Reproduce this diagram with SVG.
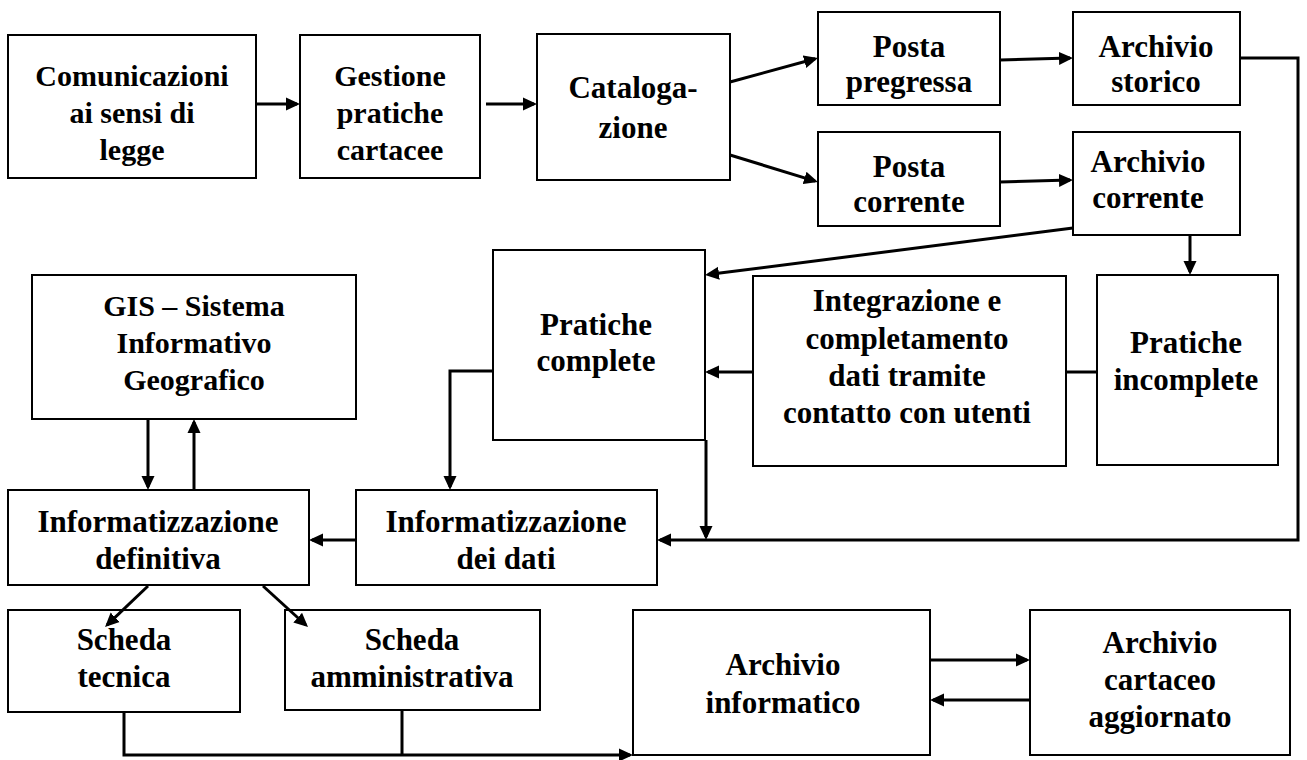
<svg xmlns="http://www.w3.org/2000/svg" width="1307" height="760" viewBox="0 0 1307 760">
<style>
.box{fill:#fff;stroke:#000;stroke-width:2}
.ta{font-family:"Liberation Serif","Times New Roman",serif;font-weight:bold;font-size:30px;text-anchor:middle;fill:#000}
.tb{font-family:"Liberation Serif","Times New Roman",serif;font-weight:bold;font-size:31px;text-anchor:middle;fill:#000}
.c{fill:none;stroke:#000;stroke-width:3}
.ca{fill:none;stroke:#000;stroke-width:3;marker-end:url(#ah)}
</style>
<defs>
<marker id="ah" viewBox="0 0 14 14" refX="11" refY="7" markerWidth="14" markerHeight="14" markerUnits="userSpaceOnUse" orient="auto"><path d="M0,0.5 L14,7 L0,13.5 z" fill="#000"/></marker>
</defs>
<rect width="1307" height="760" fill="#fff"/>
<g id="n1"><rect class="box" x="8" y="35" width="248" height="143"/><text class="ta" x="132" y="86">Comunicazioni</text><text class="ta" x="132" y="123">ai sensi di</text><text class="ta" x="132" y="160">legge</text></g>
<g id="n2"><rect class="box" x="300" y="35" width="180" height="143"/><text class="ta" x="390" y="86">Gestione</text><text class="ta" x="390" y="123">pratiche</text><text class="ta" x="390" y="160">cartacee</text></g>
<g id="n3"><rect class="box" x="537" y="34" width="193" height="146"/><text class="tb" x="633" y="98">Cataloga-</text><text class="tb" x="633" y="138">zione</text></g>
<g id="n4"><rect class="box" x="818" y="12" width="182" height="93"/><text class="tb" x="909" y="57">Posta</text><text class="tb" x="909" y="92">pregressa</text></g>
<g id="n5"><rect class="box" x="1073" y="12" width="167" height="93"/><text class="tb" x="1156" y="57">Archivio</text><text class="tb" x="1156" y="92">storico</text></g>
<g id="n6"><rect class="box" x="818" y="132" width="182" height="94"/><text class="tb" x="909" y="177">Posta</text><text class="tb" x="909" y="212">corrente</text></g>
<g id="n7"><rect class="box" x="1073" y="132" width="167" height="103"/><text class="tb" x="1148" y="172">Archivio</text><text class="tb" x="1148" y="208">corrente</text></g>
<g id="n8"><rect class="box" x="493" y="250" width="212" height="190"/><text class="tb" x="596" y="335">Pratiche</text><text class="tb" x="596" y="371">complete</text></g>
<g id="n9"><rect class="box" x="753" y="276" width="313" height="190"/><text class="tb" x="907" y="311">Integrazione e</text><text class="tb" x="907" y="349">completamento</text><text class="tb" x="907" y="386">dati tramite</text><text class="tb" x="907" y="423">contatto con utenti</text></g>
<g id="n10"><rect class="box" x="1097" y="275" width="181" height="190"/><text class="tb" x="1186" y="353">Pratiche</text><text class="tb" x="1186" y="390">incomplete</text></g>
<g id="n11"><rect class="box" x="32" y="275" width="324" height="144"/><text class="ta" x="194" y="316">GIS – Sistema</text><text class="ta" x="194" y="353">Informativo</text><text class="ta" x="194" y="390">Geografico</text></g>
<g id="n12"><rect class="box" x="8" y="490" width="301" height="95"/><text class="tb" x="158" y="532">Informatizzazione</text><text class="tb" x="158" y="569">definitiva</text></g>
<g id="n13"><rect class="box" x="356" y="490" width="301" height="95"/><text class="tb" x="506" y="532">Informatizzazione</text><text class="tb" x="506" y="569">dei dati</text></g>
<g id="n14"><rect class="box" x="8" y="610" width="232" height="102"/><text class="tb" x="124" y="650">Scheda</text><text class="tb" x="124" y="687">tecnica</text></g>
<g id="n15"><rect class="box" x="285" y="610" width="255" height="100"/><text class="tb" x="412" y="650">Scheda</text><text class="tb" x="412" y="687">amministrativa</text></g>
<g id="n16"><rect class="box" x="633" y="610" width="297" height="145"/><text class="tb" x="783" y="675">Archivio</text><text class="tb" x="783" y="713">informatico</text></g>
<g id="n17"><rect class="box" x="1030" y="610" width="260" height="145"/><text class="tb" x="1160" y="653">Archivio</text><text class="tb" x="1160" y="690">cartaceo</text><text class="tb" x="1160" y="727">aggiornato</text></g>
<g id="connectors">
<path class="ca" d="M256,104 H297"/>
<path class="ca" d="M486,104 H534"/>
<path class="ca" d="M730,82 L815.1,58.8"/>
<path class="ca" d="M730,155 L815.1,181.1"/>
<path class="ca" d="M1000,60 L1070,58.1"/>
<path class="ca" d="M1000,182 L1070,180.1"/>
<path class="ca" d="M1240,58 H1298 V540 H660"/>
<path class="ca" d="M1073,228 L708,274.6"/>
<path class="ca" d="M1190,235 V272"/>
<path class="c" d="M1097,372 H1066"/>
<path class="ca" d="M753,372 H708"/>
<path class="ca" d="M493,371 H450 V487"/>
<path class="ca" d="M706,440 V537"/>
<path class="ca" d="M356,540 H312"/>
<path class="ca" d="M148,419 V487"/>
<path class="ca" d="M194,490 V422"/>
<path class="ca" d="M148,586 L107.2,624.9"/>
<path class="ca" d="M263,586 L305.8,625"/>
<path class="ca" d="M124,712 V755 H630"/>
<path class="c" d="M402,710 V755"/>
<path class="ca" d="M930,660 H1027"/>
<path class="ca" d="M1030,700 H933"/>
</g>
</svg>
